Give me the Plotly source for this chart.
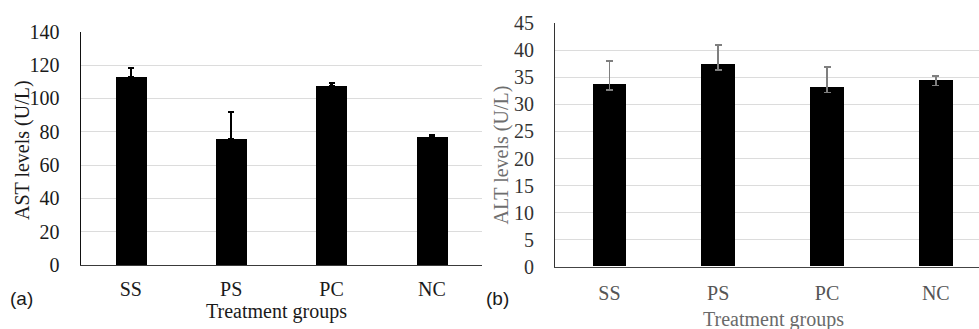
import plotly.graph_objects as go

groups = ["SS", "PS", "PC", "NC"]
ast_values = [113, 75.6, 107.6, 76.8]
ast_err_up = [5.0, 16.0, 1.5, 1.4]
alt_values = [33.7, 37.4, 33.2, 34.5]
alt_err_up = [4.3, 3.6, 3.7, 0.8]
alt_err_down = [1.0, 1.0, 1.0, 1.0]
ast_ticks = [0, 20, 40, 60, 80, 100, 120, 140]
alt_ticks = [0, 5, 10, 15, 20, 25, 30, 35, 40, 45]

W, H = 979, 329
SERIF = "Liberation Serif, Times New Roman, serif"
SANS = "Liberation Sans, Arial, sans-serif"

def px(x):
    return x / W

def py(y):
    return 1 - y / H

fig = go.Figure()

fig.add_trace(go.Bar(
    x=groups, y=ast_values, width=0.31,
    marker=dict(color="black", line=dict(width=0)),
    error_y=dict(type="data", symmetric=False, array=ast_err_up,
                 arrayminus=[0] * len(groups), color="black",
                 thickness=2.2, width=3),
    xaxis="x", yaxis="y", showlegend=False,
))

fig.add_trace(go.Bar(
    x=groups, y=alt_values, width=0.31,
    marker=dict(color="black", line=dict(width=0)),
    error_y=dict(type="data", symmetric=False, array=alt_err_up,
                 arrayminus=alt_err_down, color="#7f7f7f",
                 thickness=1.5, width=3.5),
    xaxis="x2", yaxis="y2", showlegend=False,
))

grid = "#dcdcdc"

fig.update_layout(
    template="none",
    width=W, height=H,
    margin=dict(l=0, r=0, t=0, b=0, pad=0),
    paper_bgcolor="white", plot_bgcolor="white",
    bargap=0,
    xaxis=dict(
        domain=[px(80.7), px(482)], range=[-0.5, 3.5],
        type="category", showgrid=False, automargin=False,
        showline=True, linecolor="#3a3a3a", linewidth=1.2,
        ticks="outside", ticklen=6, tickcolor="rgba(0,0,0,0)",
        tickfont=dict(family=SERIF, size=20, color="#1a1a1a"),
        anchor="y", fixedrange=True,
    ),
    yaxis=dict(
        domain=[py(265), py(31.7)], range=[0, 140],
        tickvals=ast_ticks, showgrid=True, gridcolor=grid, gridwidth=1,
        automargin=False,
        showline=True, linecolor="#111111", linewidth=1.3,
        ticks="outside", ticklen=16, tickcolor="rgba(0,0,0,0)",
        tickfont=dict(family=SERIF, size=20, color="#1a1a1a"),
        zeroline=False, anchor="x", fixedrange=True,
    ),
    xaxis2=dict(
        domain=[px(555), 1.0], range=[-0.5, 3.397],
        type="category", showgrid=False, automargin=False,
        showline=True, linecolor="#444444", linewidth=1.2,
        ticks="outside", ticklen=8, tickcolor="rgba(0,0,0,0)",
        tickfont=dict(family=SERIF, size=20, color="#555555"),
        anchor="y2", fixedrange=True,
    ),
    yaxis2=dict(
        domain=[py(266.7), py(23.3)], range=[0, 45],
        tickvals=alt_ticks, showgrid=True, gridcolor=grid, gridwidth=1,
        automargin=False,
        showline=True, linecolor="#333333", linewidth=1.2,
        ticks="outside", ticklen=16, tickcolor="rgba(0,0,0,0)",
        tickfont=dict(family=SERIF, size=20, color="#333333"),
        zeroline=False, anchor="x2", fixedrange=True,
    ),
)

annotations = [
    dict(text="AST levels (U/L)", x=px(22), y=py(150), textangle=-90,
         font=dict(family=SERIF, size=20, color="#1a1a1a")),
    dict(text="Treatment groups", x=px(276), y=py(311),
         font=dict(family=SERIF, size=20, color="#1a1a1a")),
    dict(text="(a)", x=px(21.5), y=py(298),
         font=dict(family=SANS, size=19, color="#1a1a1a")),
    dict(text="ALT levels (U/L)", x=px(500.5), y=py(155), textangle=-90,
         font=dict(family=SERIF, size=20, color="#6e6e6e")),
    dict(text="Treatment groups", x=px(773), y=py(319),
         font=dict(family=SERIF, size=20, color="#6a6a6a")),
    dict(text="(b)", x=px(497.5), y=py(298),
         font=dict(family=SANS, size=19, color="#1a1a1a")),
]
for a in annotations:
    a.update(xref="paper", yref="paper", showarrow=False,
             xanchor="center", yanchor="middle")
fig.update_layout(annotations=annotations)

fig.write_html("out.html", config={"displayModeBar": False})
